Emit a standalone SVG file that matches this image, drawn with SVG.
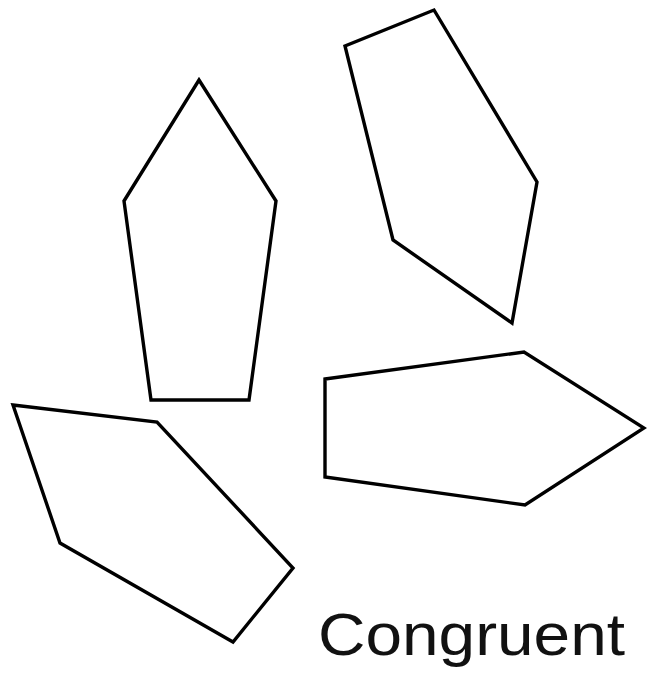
<svg xmlns="http://www.w3.org/2000/svg" width="647" height="674" viewBox="0 0 647 674">
<style>
.shape{fill:none;stroke:#000;stroke-width:3.4;stroke-linejoin:miter}
.lbl{font-family:"Liberation Sans",Arial,sans-serif;font-size:60px;fill:#111}
</style>
<rect width="647" height="674" fill="#fff"/>
<g id="pentagon1"><polygon class="shape" points="199,80 276,201 249,400 151,400 124,201"/></g>
<g id="pentagon2"><polygon class="shape" points="434,10 537,182 512,323 393,240 345,46"/></g>
<g id="pentagon3"><polygon class="shape" points="13,405 157,422 293,568 233,642 60,543"/></g>
<g id="pentagon4"><polygon class="shape" points="325,379 524,352 644,428 525,505 325,477"/></g>
<g id="connectors"></g>
<text class="lbl" x="318" y="655" textLength="307" lengthAdjust="spacingAndGlyphs">Congruent</text>
</svg>
